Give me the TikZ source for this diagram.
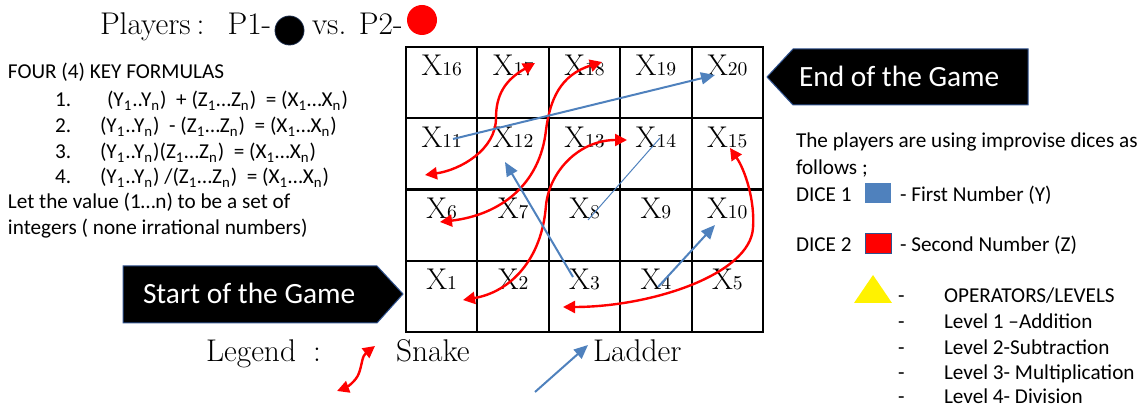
\documentclass[tikz,border=0pt]{standalone}
\usepackage{fontspec}
\newfontfamily\calib{Carlito}
\usetikzlibrary{arrows.meta}
\definecolor{ladblue}{RGB}{79,129,189}
\definecolor{edgeblue}{RGB}{47,82,143}
\newcommand{\sbs}[1]{\textsubscript{#1}}
\begin{document}
\begin{tikzpicture}[x=0.5pt,y=-0.5pt,
  every node/.style={inner sep=0pt, outer sep=0pt},
  serif/.style={font=\fontsize{15.7}{18}\selectfont, anchor=base west},
  sans/.style={font=\calib\fontsize{10.6}{12}\selectfont, anchor=base west},
  bigsans/.style={font=\calib\fontsize{14.7}{17}\selectfont, anchor=base west, text=white},
  cellbox/.style={draw, line width=1pt, minimum width=35.7pt, minimum height=35.6pt},
  xlbl/.style={anchor=base},
  banner/.style={fill=black, draw=edgeblue, line width=0.5pt},
  snake/.style={draw=red, line width=1.2pt, {Triangle[length=6pt,width=6pt]}-{Triangle[length=6pt,width=6pt]}},
  ladder/.style={draw=ladblue, line width=1pt, -{Triangle[length=7pt,width=6pt]}},
  thinladder/.style={draw=ladblue, line width=0.5pt},
]
\useasboundingbox (0,0) rectangle (1145,410);

% title
\node[serif] (players) at (100,35) {Players\hspace{3pt}:\hspace{11.5pt}P1-};
\node[circle, fill=black, draw=edgeblue!50!black, line width=0.4pt, minimum size=14.5pt] (p1) at (289.5,30.5) {};
\node[serif] (vs) at (312,35) {vs. P2-};
\node[circle, fill=red, minimum size=15pt] (p2) at (422,20) {};

% grid
\foreach \r in {0,...,3}{
  \foreach \c in {0,...,4}{
    \pgfmathtruncatemacro\n{16-5*\r+\c}
    \node[cellbox] (c\n) at ({406+71.4*(\c+0.5)},{47+71.25*(\r+0.5)}) {};
    \node[xlbl] (t\n) at ({406+71.4*(\c+0.5)},{47+71.25*\r+29}) {{\fontsize{15}{18}\selectfont X}{\fontsize{9.8}{12}\selectfont\n}};
  }
}

% formulas
\node[sans] (f0) at (8,79) {FOUR (4) KEY FORMULAS};
\node[sans] (n1) at (55,107) {1.};
\node[sans] (f1) at (107,107) {(Y\sbs{1}..Y\sbs{n})\ \ + (Z\sbs{1}…Z\sbs{n})\ \ = (X\sbs{1}…X\sbs{n})};
\node[sans] (n2) at (55,133) {2.};
\node[sans] (f2) at (100,133) {(Y\sbs{1}..Y\sbs{n})\ \ - (Z\sbs{1}…Z\sbs{n})\ \ = (X\sbs{1}…X\sbs{n})};
\node[sans] (n3) at (55,159) {3.};
\node[sans] (f3) at (100,159) {(Y\sbs{1}..Y\sbs{n})(Z\sbs{1}…Z\sbs{n})\ \ = (X\sbs{1}…X\sbs{n})};
\node[sans] (n4) at (55,184) {4.};
\node[sans] (f4) at (100,184) {(Y\sbs{1}..Y\sbs{n}) /(Z\sbs{1}…Z\sbs{n})\ \ = (X\sbs{1}…X\sbs{n})};
\node[sans] (let1) at (8,209) {Let the value (1…n) to be a set of};
\node[sans] (let2) at (8,235) {integers ( none irrational numbers)};

% banners
\path[banner] (767,77) -- (793,49) -- (1028,49) -- (1028,105) -- (793,105) -- cycle;
\node[bigsans] (endg) at (799,87) {End of the Game};
\path[banner] (123,266) -- (377,266) -- (403,294) -- (377,323) -- (123,323) -- cycle;
\node[bigsans] (startg) at (143,304) {Start of the Game};

% dice text
\node[sans] (d0) at (796,148) {The players are using improvise dices as};
\node[sans] (d1) at (796,175) {follows ;};
\node[sans] (dice1) at (796,202) {DICE 1};
\node[fill=ladblue, minimum width=13pt, minimum height=10pt] (sq1) at (878,193) {};
\node[sans] (dice1t) at (900,202) {- First Number (Y)};
\node[sans] (dice2) at (796,252) {DICE 2};
\node[fill=red, draw=edgeblue, line width=0.4pt, minimum width=13pt, minimum height=10pt] (sq2) at (878,243) {};
\node[sans] (dice2t) at (900,252) {- Second Number (Z)};

% operators
\fill[yellow] (854,303) -- (873,275) -- (892,303) -- cycle;
\foreach \yy/\tt [count=\i] in {303/OPERATORS\slash LEVELS, 329/Level 1 –Addition, 355/Level 2-Subtraction, 380/Level 3- Multiplication, 404/Level 4- Division}{
  \node[sans] (dash\i) at (898,\yy) {-};
  \node[sans] (lv\i) at (944,\yy) {\tt};
}

% legend
\node[serif] (legend) at (206,362) {Legend\hspace{8.5pt}:};
\node[serif] (snk) at (396,362) {Snake};
\node[serif] (lad) at (593,362) {Ladder};

% snakes
\draw[snake] (535,63) .. controls (505,80) and (496,95) .. (496,118) .. controls (496,150) and (460,170) .. (425,175);
\draw[snake] (602,62) .. controls (560,75) and (550,100) .. (546,130) .. controls (540,185) and (500,215) .. (440,222);
\draw[snake] (627,140) .. controls (580,140) and (550,170) .. (546,205) .. controls (542,260) and (510,292) .. (463,300);
\draw[snake] (730,148) .. controls (745,170) and (755,200) .. (753,228) .. controls (750,275) and (650,307) .. (563,307);
\draw[snake] (375,346) .. controls (362,356) and (362,365) .. (359,373) .. controls (356,382) and (345,388) .. (337,391);

% ladders
\draw[ladder] (453,139) -- (715,75);
\draw[ladder] (573,277) -- (505,162);
\draw[thinladder] (588,220) -- (660,138);
\draw[ladder] (658,287) -- (715,225);
\draw[ladder] (535,392) -- (588,345);
\end{tikzpicture}
\end{document}
